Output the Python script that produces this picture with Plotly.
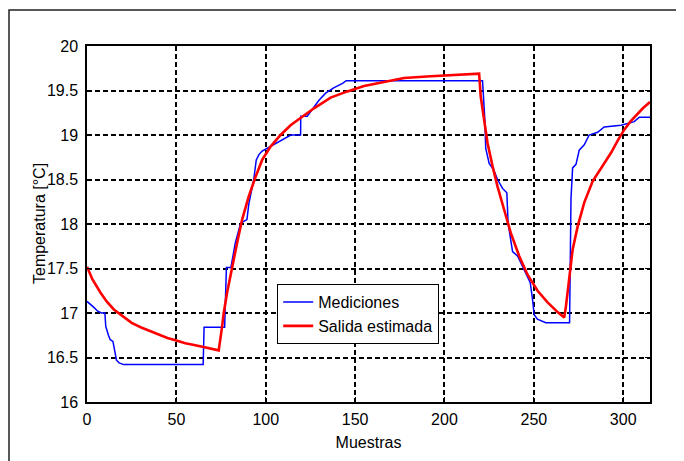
import plotly.graph_objects as go

# Mediciones (blue)
med_x = [0, 2, 4, 6, 8, 10, 10.5, 12, 13, 14.5, 15.5, 16.5, 18, 20.5, 65, 65.5, 77, 77.5, 78, 80.5,
         82, 83, 86, 89.5, 90.5, 93.3, 94.7, 96.2, 98, 101.7, 106.4, 114, 119.5, 119.6, 123.2, 127,
         129.8, 133.5, 138, 143, 145, 221.3, 222.6, 223.1, 225, 227.5, 229.7, 232.5, 234.9, 235.6,
         236.8, 238.1, 240.9, 244.6, 248, 249.3, 250.2, 252, 256.7, 270, 270.3, 270.8, 271.7, 273.6,
         275.4, 278.2, 281, 285.7, 289.4, 298.8, 306.2, 309, 315]
med_y = [17.13, 17.1, 17.06, 17.02, 17.0, 17.0, 16.85, 16.75, 16.7, 16.68, 16.55, 16.47, 16.44, 16.42,
         16.42, 16.84, 16.84, 17.3, 17.51, 17.51, 17.68, 17.79, 18.01, 18.05, 18.22, 18.5, 18.72,
         18.78, 18.82, 18.86, 18.91, 19.0, 19.0, 19.21, 19.21, 19.32, 19.39, 19.47, 19.53, 19.58,
         19.61, 19.61, 19.17, 18.85, 18.68, 18.61, 18.5, 18.4, 18.35, 18.01, 17.83, 17.69, 17.64,
         17.49, 17.34, 17.15, 16.98, 16.93, 16.89, 16.89, 17.53, 18.29, 18.63, 18.67, 18.83, 18.89,
         19.0, 19.03, 19.09, 19.11, 19.15, 19.2, 19.2]

# Salida estimada (red)
est_x = [0, 3, 7.5, 11, 15, 20, 25, 30, 35, 40, 45, 50, 55, 60, 65, 70, 73.7, 75.6, 76.5, 78.4, 81.2,
         84, 86.8, 90.5, 94.3, 98, 102.7, 108.3, 113.9, 119.5, 127, 136.3, 145.7, 155, 164.3, 177.4,
         192.3, 207.3, 219.4, 220.3, 222.2, 224.1, 226.9, 229.7, 233.4, 237.1, 241.8, 246.5, 252.1,
         257.7, 263.3, 267, 268, 269.8, 271.7, 274.5, 278.2, 282.9, 286, 290, 293.2, 297, 300.6, 304,
         308.1, 311, 315]
est_y = [17.52, 17.38, 17.23, 17.13, 17.04, 16.96, 16.89, 16.84, 16.8, 16.76, 16.72, 16.69, 16.66,
         16.64, 16.62, 16.6, 16.58, 16.85, 17.0, 17.23, 17.53, 17.79, 18.05, 18.31, 18.53, 18.72,
         18.87, 19.0, 19.11, 19.19, 19.3, 19.42, 19.49, 19.55, 19.59, 19.64, 19.66, 19.68, 19.69,
         19.43, 19.17, 18.91, 18.65, 18.42, 18.16, 17.9, 17.64, 17.43, 17.25, 17.12, 17.01, 16.95,
         17.08, 17.41, 17.71, 17.97, 18.24, 18.48, 18.58, 18.7, 18.8, 18.94, 19.06, 19.15, 19.24,
         19.3, 19.37]

x_ticks = [0, 50, 100, 150, 200, 250, 300]
y_ticks = [16, 16.5, 17, 17.5, 18, 18.5, 19, 19.5, 20]
y_tick_text = ["16", "16.5", "17", "17.5", "18", "18.5", "19", "19.5", "20"]

FONT = "Liberation Sans, Arial, sans-serif"

fig = go.Figure()
fig.add_trace(go.Scatter(x=med_x, y=med_y, mode="lines", name="Mediciones",
                         line=dict(color="#0000ff", width=1.5)))
fig.add_trace(go.Scatter(x=est_x, y=est_y, mode="lines", name="Salida estimada",
                         line=dict(color="#ff0000", width=2.6)))

# page body has an 8px margin: figure coordinates = page coordinates - 8
OFF = 8
W, H = 684 - OFF, 461 - OFF
L = 87 - OFF
T = 46 - OFF
R = W - (650 - OFF)
B = H - (402 - OFF)
pw, ph = W - L - R, H - T - B

axis_common = dict(showline=True, linecolor="black", linewidth=1.5, mirror="ticks",
                   ticks="inside", ticklen=5, tickcolor="black", automargin=False,
                   showgrid=True, gridcolor="black", gridwidth=1.6, griddash="5px,3px",
                   zeroline=False, tickfont=dict(family=FONT, size=16, color="black"))

fig.update_layout(
    width=W, height=H,
    margin=dict(l=L, r=R, t=T, b=B, autoexpand=False),
    paper_bgcolor="white", plot_bgcolor="white",
    font=dict(family=FONT, size=16, color="black"),
    xaxis=dict(range=[0, 315], tickvals=x_ticks, ticklabelstandoff=2,
               title=dict(text="Muestras", font=dict(family=FONT, size=16), standoff=10),
               **axis_common),
    yaxis=dict(range=[16, 20], tickvals=y_ticks, ticktext=y_tick_text, ticklabelstandoff=4,
               **axis_common),
    legend=dict(x=(277 - 87) / pw, y=1 - (284 - 46) / ph, xanchor="left", yanchor="top",
                bgcolor="white", bordercolor="black", borderwidth=1.2,
                font=dict(family=FONT, size=16, color="black"), itemwidth=30,
                tracegroupgap=0),
    showlegend=True,
    annotations=[dict(text="Temperatura [°C]", textangle=-90, xref="paper", yref="paper",
                      x=(39 - 87) / pw, y=0.5, xanchor="center", yanchor="middle",
                      showarrow=False, font=dict(family=FONT, size=16, color="black"))],
    shapes=[dict(type="rect", xref="paper", yref="paper",
                 x0=(9 - 87) / pw, x1=(720 - 87) / pw,
                 y0=1 - (500 - 46) / ph, y1=1 + (46 - 10) / ph,
                 line=dict(color="#222222", width=1.5), layer="below")],
)

fig.write_html("out.html")
